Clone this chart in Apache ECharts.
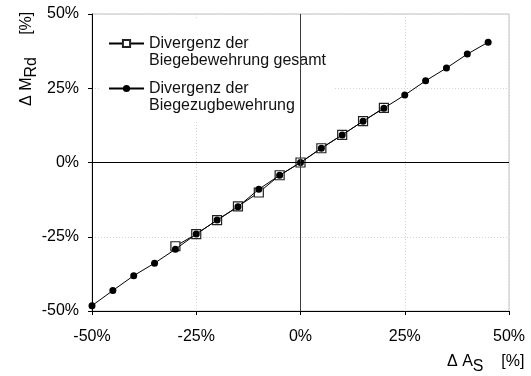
<!DOCTYPE html>
<html>
<head>
<meta charset="utf-8">
<script src="https://cdn.jsdelivr.net/npm/echarts@6/dist/echarts.min.js"></script>
<style>
  html, body { margin: 0; padding: 0; background: #fff; }
  #chart { width: 531px; height: 376px; }
</style>
</head>
<body>
<div id="chart"></div>
<script>
// Change of reinforcement area ΔAs [%]
var xGesamt = [-30, -25, -20, -15, -10, -5, 0, 5, 10, 15, 20];
// Change of bending resistance ΔMRd [%] — total flexural reinforcement
var yGesamt = [-28.2, -24.1, -19.4, -14.8, -10.1, -4.3, 0, 4.8, 9.3, 13.9, 18.4];

var xZug = [-50, -45, -40, -35, -30, -25, -20, -15, -10, -5, 0, 5, 10, 15, 20, 25, 30, 35, 40, 45];
// Change of bending resistance ΔMRd [%] — flexural tension reinforcement
var yZug = [-48.2, -43.1, -38.1, -33.9, -29.2, -24.1, -19.4, -14.9, -9.0, -4.3, 0, 4.8, 9.3, 13.9, 18.3, 22.7, 27.5, 31.8, 36.5, 40.5];

var seriesNames = ['Divergenz der\nBiegebewehrung gesamt', 'Divergenz der\nBiegezugbewehrung'];
var axisTicks = [-50, -25, 0, 25, 50];

function pairs(xs, ys) {
  return xs.map(function (x, i) { return [x, ys[i]]; });
}

var FONT = '"Liberation Sans", Arial, sans-serif';
var chart = echarts.init(document.getElementById('chart'));

var axisCommon = {
  type: 'value',
  min: axisTicks[0],
  max: axisTicks[axisTicks.length - 1],
  interval: axisTicks[1] - axisTicks[0],
  axisLine: { show: true, onZero: false, lineStyle: { color: '#000', width: 1 } },
  axisTick: { show: true, inside: false, length: 4, lineStyle: { color: '#000' } },
  axisLabel: { color: '#000', fontSize: 16, fontFamily: FONT, formatter: '{value}%' },
  splitLine: { show: true, lineStyle: { color: '#d4d4d4', type: [1, 2], width: 1 } }
};

// axis titles with a lowered subscript, written as rich text
var titleRich = {
  m: { fontSize: 16, fontFamily: FONT, color: '#111', lineHeight: 16 },
  s: { fontSize: 16, fontFamily: FONT, color: '#111', lineHeight: 16, padding: [10, 0, 0, 0] }
};

function title(text, x, y, rot) {
  return {
    type: 'text', x: x, y: y, rotation: rot || 0,
    style: { text: text, rich: titleRich, align: 'left', verticalAlign: 'middle' }
  };
}

chart.setOption({
  animation: false,
  backgroundColor: '#fff',
  grid: {
    left: 92, right: 22, top: 14, bottom: 65,
    show: true, borderColor: '#b9c2c2', borderWidth: 1, backgroundColor: 'transparent'
  },
  xAxis: Object.assign({}, axisCommon, {
    axisLabel: Object.assign({}, axisCommon.axisLabel, { margin: 18 })
  }),
  yAxis: Object.assign({}, axisCommon, {
    axisLabel: Object.assign({}, axisCommon.axisLabel, { margin: 13 })
  }),
  legend: {
    orient: 'vertical',
    left: 100,
    top: 18,
    padding: [0, 8, 7, 8],
    itemGap: -6,
    itemWidth: 35,
    itemHeight: 9,
    backgroundColor: '#fff',
    inactiveColor: '#000',
    // a blank leading line keeps the marker level with the first text line
    formatter: function (name) { return ' \n' + name; },
    textStyle: { color: '#111', fontSize: 16, fontFamily: FONT, lineHeight: 17 },
    data: seriesNames
  },
  series: [
    {
      name: seriesNames[0],
      type: 'line',
      data: pairs(xGesamt, yGesamt),
      symbol: 'rect',
      symbolSize: 9,
      showAllSymbol: true,
      lineStyle: { color: '#000', width: 1 },
      itemStyle: { color: '#fff', borderColor: '#222', borderWidth: 1.2 },
      z: 3,
      markLine: {
        silent: true,
        symbol: 'none',
        label: { show: false },
        lineStyle: { color: '#000', width: 1, type: 'solid' },
        data: [
          { xAxis: 0, lineStyle: { color: '#3a3a3a' } },
          { yAxis: 0 }
        ]
      }
    },
    {
      name: seriesNames[1],
      type: 'line',
      data: pairs(xZug, yZug),
      symbol: 'circle',
      symbolSize: 7,
      showAllSymbol: true,
      lineStyle: { color: '#000', width: 1 },
      itemStyle: { color: '#000', borderColor: '#000', borderWidth: 0 },
      z: 4
    }
  ],
  graphic: [
    title('{m|Δ M}{s|Rd}{m|     [%]}', 27, 106, Math.PI / 2),
    title('{m|Δ A}{s|S}{m|    [%]}', 447, 362, 0)
  ]
});
</script>
</body>
</html>
